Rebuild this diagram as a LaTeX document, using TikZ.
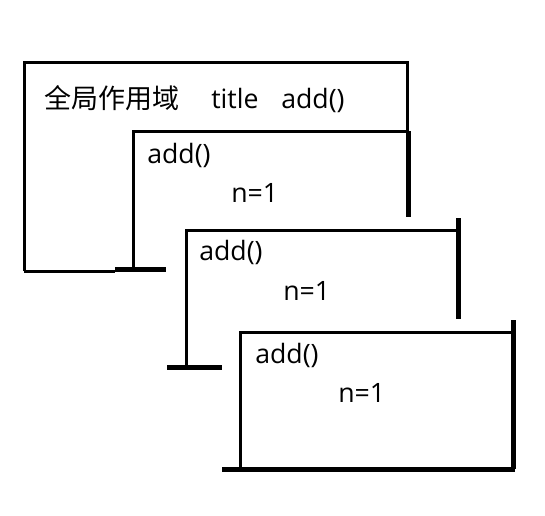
\documentclass[tikz,border=0pt]{standalone}
\usepackage{fontspec}
\setmainfont{Open Sans}
\newfontfamily\cjk{Noto Sans CJK SC}
\begin{document}
\begin{tikzpicture}[x=0.75pt, y=-0.75pt,
  boxline/.style={line width=2.25pt},
  heavyline/.style={line width=3.75pt},
  txt/.style={inner sep=0pt, anchor=base west, font=\fontsize{20}{23}\selectfont}]
  \useasboundingbox (0,0) rectangle (545,515);
  \draw[boxline] (24,271) -- (24,62) -- (407,62) -- (407,131);
  \draw[boxline] (24,271) -- (115,271);
  \draw[boxline] (133,269) -- (133,131) -- (407,131);
  \draw[heavyline] (115,269) -- (166,269);
  \draw[heavyline] (408,131) -- (408,217);
  \draw[boxline] (186,367) -- (186,230) -- (458,230);
  \draw[heavyline] (167,367) -- (222,367);
  \draw[heavyline] (458,218) -- (458,319);
  \draw[boxline] (240,469) -- (240,332) -- (513,332);
  \draw[heavyline] (513,320) -- (513,469);
  \draw[heavyline] (222,469) -- (515,469);
  \node[txt, font=\cjk\fontsize{20.25}{23}\selectfont] (scope) at (44,108) {全局作用域};
  \node[txt] (title) at (211,108) {title};
  \node[txt] (gadd) at (281,108) {add()};
  \node[txt] (addA) at (147,163) {add()};
  \node[txt] (nA) at (231,202) {n=1};
  \node[txt] (addB) at (199,260) {add()};
  \node[txt] (nB) at (283,300) {n=1};
  \node[txt] (addC) at (255,363) {add()};
  \node[txt] (nC) at (338,402) {n=1};
\end{tikzpicture}
\end{document}
